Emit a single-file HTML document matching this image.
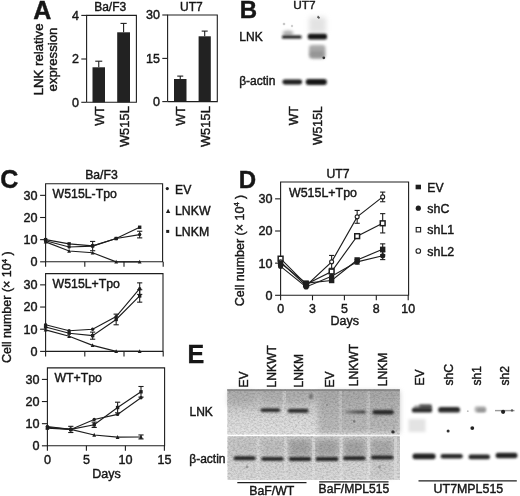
<!DOCTYPE html>
<html><head><meta charset="utf-8"><style>
html,body{margin:0;padding:0;background:#fff;width:520px;height:496px;overflow:hidden}
svg{display:block;filter:blur(0.35px)}
svg text{font-family:"Liberation Sans", sans-serif;fill:#161616;stroke:#161616;stroke-width:0.42px}
</style></head><body>
<svg width="520" height="496" viewBox="0 0 520 496">
<defs>
<filter id="b4" x="-20%" y="-100%" width="140%" height="300%"><feGaussianBlur stdDeviation="0.85"/></filter>
<filter id="b1" x="-20%" y="-100%" width="140%" height="300%"><feGaussianBlur stdDeviation="0.65"/></filter>
<filter id="b2" x="-20%" y="-100%" width="140%" height="300%"><feGaussianBlur stdDeviation="1.6"/></filter>
<filter id="b3" x="-50%" y="-50%" width="200%" height="200%"><feGaussianBlur stdDeviation="2.5"/></filter>
<linearGradient id="gu" x1="0" y1="0" x2="0" y2="1">
<stop offset="0" stop-color="#8c8c8c"/><stop offset="0.05" stop-color="#b2b2b2"/><stop offset="0.3" stop-color="#c6c6c6"/><stop offset="0.65" stop-color="#dadada"/><stop offset="1" stop-color="#e2e2e2"/>
</linearGradient>
<linearGradient id="gl" x1="0" y1="0" x2="0" y2="1">
<stop offset="0" stop-color="#c8c8c8"/><stop offset="0.35" stop-color="#cdcdcd"/><stop offset="0.6" stop-color="#d4d4d4"/><stop offset="1" stop-color="#dadada"/>
</linearGradient>
<linearGradient id="g5" x1="0" y1="0" x2="1" y2="0"><stop offset="0" stop-color="#8a8a8a"/><stop offset="0.5" stop-color="#555"/><stop offset="1" stop-color="#3a3a3a"/></linearGradient>
<filter id="nz" x="0" y="0" width="100%" height="100%" color-interpolation-filters="sRGB">
<feTurbulence type="fractalNoise" baseFrequency="0.45 0.6" numOctaves="2" seed="7"/>
<feColorMatrix type="matrix" values="0 0 0 0 0.1  0 0 0 0 0.1  0 0 0 0 0.1  0.45 0 0 0 -0.17"/>
</filter>

</defs>
<g id="panelB">
<ellipse cx="288" cy="33" rx="5.5" ry="2.6" fill="#8c8c8c" opacity="0.7" filter="url(#b2)"/>
<circle cx="284" cy="24" r="1.3" fill="#c8c8c8" filter="url(#b1)"/>
<circle cx="292" cy="26" r="1.2" fill="#cfcfcf" filter="url(#b1)"/>
<rect x="282" y="35.4" width="19.5" height="3.2" rx="1.2" fill="#111" filter="url(#b4)"/>
<rect x="309" y="17" width="17" height="16" fill="#d0d0d0" opacity="0.6" filter="url(#b3)"/>
<path d="M318 15.5 L320 17.5 L319 19 L317 17.5 Z" fill="#555" filter="url(#b1)"/>
<rect x="307.8" y="33.8" width="19.2" height="5.6" rx="2" fill="#151515" filter="url(#b4)"/>
<rect x="309" y="45" width="16.5" height="13.5" rx="3" fill="#9a9a9a" opacity="0.85" filter="url(#b2)"/>
<rect x="310" y="51" width="14" height="7" rx="3" fill="#888" opacity="0.6" filter="url(#b2)"/>
<circle cx="323.8" cy="57.8" r="1.4" fill="#333" filter="url(#b1)"/>
<rect x="282.4" y="79.5" width="19.8" height="4.9" rx="2.4" fill="#1c1c1c" filter="url(#b4)"/>
<rect x="305.7" y="78.9" width="21.2" height="6" rx="2.9" fill="#161616" filter="url(#b4)"/>
</g>
<g id="panelE">
<rect x="227.3" y="389.5" width="172.5" height="45" fill="url(#gu)"/>
<rect x="318" y="391" width="82" height="42" fill="#a2a2a2" opacity="0.6" filter="url(#b3)"/>
<rect x="228" y="391" width="27" height="15" fill="#a8a8a8" opacity="0.5" filter="url(#b3)"/>
<rect x="262" y="392" width="46" height="12" fill="#a8a8a8" opacity="0.5" filter="url(#b3)"/>
<rect x="282.6" y="391" width="3.4" height="43" fill="#e2e2e2" opacity="0.45" filter="url(#b1)"/>
<rect x="338.5" y="391" width="3.5" height="43" fill="#dadada" opacity="0.4" filter="url(#b1)"/>
<rect x="366.5" y="391" width="3.5" height="43" fill="#dadada" opacity="0.4" filter="url(#b1)"/>
<rect x="227.3" y="389.5" width="172.5" height="45" filter="url(#nz)" opacity="0.9"/>
<rect x="227.3" y="389.3" width="172.5" height="1.5" fill="#7c7c7c" opacity="0.8"/>
<rect x="260.6" y="408.2" width="19.5" height="3.8" rx="1.6" fill="#2c2c2c" filter="url(#b4)"/>
<rect x="287.8" y="408.8" width="20.7" height="4.0" rx="1.6" fill="#2a2a2a" filter="url(#b4)"/>
<rect x="345" y="410.4" width="20.6" height="3.2" rx="1.4" fill="url(#g5)" filter="url(#b4)"/>
<rect x="372.5" y="409.9" width="21.3" height="4.6" rx="2" fill="#262626" filter="url(#b4)"/>
<circle cx="376" cy="416.5" r="1.5" fill="#888" filter="url(#b4)"/>
<ellipse cx="311" cy="396.5" rx="1.8" ry="3" fill="#6a6a6a" filter="url(#b4)"/>
<circle cx="393" cy="431.9" r="1.7" fill="#333" filter="url(#b1)"/>
<circle cx="354.2" cy="421.5" r="1.2" fill="#777" filter="url(#b1)"/>
<circle cx="327" cy="405" r="1.1" fill="#888" filter="url(#b1)"/>
<rect x="227.5" y="436.3" width="172.5" height="43.7" fill="url(#gl)"/>
<rect x="234" y="441" width="21" height="14" fill="#c0c0c0" opacity="0.45" filter="url(#b3)"/>
<rect x="262" y="441" width="21" height="14" fill="#b4b4b4" opacity="0.5" filter="url(#b3)"/>
<rect x="289" y="440" width="22" height="16" fill="#959595" opacity="0.7" filter="url(#b3)"/>
<rect x="316" y="440" width="22" height="16" fill="#959595" opacity="0.7" filter="url(#b3)"/>
<rect x="344" y="440" width="21" height="16" fill="#959595" opacity="0.7" filter="url(#b3)"/>
<rect x="371" y="440" width="22" height="16" fill="#9a9a9a" opacity="0.65" filter="url(#b3)"/>
<rect x="371" y="462" width="22" height="16" fill="#bcbcbc" opacity="0.4" filter="url(#b3)"/>
<rect x="256.6" y="437" width="3" height="43" fill="#e4e4e4" opacity="0.5" filter="url(#b1)"/>
<rect x="284.2" y="437" width="3" height="43" fill="#e4e4e4" opacity="0.5" filter="url(#b1)"/>
<rect x="312" y="437" width="3" height="43" fill="#e6e6e6" opacity="0.55" filter="url(#b1)"/>
<rect x="339.6" y="437" width="3" height="43" fill="#e8e8e8" opacity="0.6" filter="url(#b1)"/>
<rect x="367.2" y="437" width="3" height="43" fill="#e8e8e8" opacity="0.6" filter="url(#b1)"/>
<rect x="233.6" y="456.3" width="22" height="4.0" rx="1.9" fill="#202020" filter="url(#b4)"/>
<rect x="261.3" y="456.9" width="22.4" height="3.9" rx="1.9" fill="#202020" filter="url(#b4)"/>
<rect x="288.8" y="456.9" width="22.4" height="4.0" rx="1.9" fill="#202020" filter="url(#b4)"/>
<rect x="315.6" y="456.9" width="22.9" height="4.0" rx="1.9" fill="#202020" filter="url(#b4)"/>
<rect x="343.1" y="456.2" width="22.5" height="4.0" rx="1.9" fill="#202020" filter="url(#b4)"/>
<rect x="371" y="455.4" width="22.5" height="4.2" rx="1.9" fill="#202020" filter="url(#b4)"/>
<rect x="227.5" y="436.3" width="172.5" height="43.7" filter="url(#nz)" opacity="0.9"/>
<circle cx="247" cy="467" r="1.4" fill="#999" filter="url(#b1)"/>
<circle cx="379.5" cy="467" r="1.4" fill="#999" filter="url(#b1)"/>
<rect x="394" y="437" width="3" height="43" fill="#e0e0e0" opacity="0.5" filter="url(#b1)"/>
<!-- UT7 -->
<rect x="419" y="404.2" width="13" height="5" rx="2" fill="#3a3a3a" opacity="0.85" filter="url(#b4)"/>
<rect x="414" y="405.5" width="8" height="3" rx="1.5" fill="#777" opacity="0.7" filter="url(#b4)"/>
<rect x="411.9" y="407.8" width="20.2" height="4.8" rx="2.2" fill="#2a2a2a" filter="url(#b4)"/>
<rect x="408.5" y="419" width="17" height="13" fill="#dcdcdc" opacity="0.8" filter="url(#b2)"/>
<rect x="438.2" y="407" width="21.8" height="5.6" rx="2.6" fill="#2a2a2a" filter="url(#b4)"/>
<rect x="474.5" y="406.3" width="11.7" height="6.2" rx="2.5" fill="#b8b8b8" filter="url(#b4)"/>
<rect x="477" y="408.3" width="8.5" height="3.6" rx="1.5" fill="#8a8a8a" opacity="0.8" filter="url(#b4)"/>
<circle cx="467.8" cy="411.2" r="0.9" fill="#bbb" filter="url(#b1)"/>
<rect x="495" y="409.9" width="19.5" height="1.4" fill="#9a9a9a" filter="url(#b1)"/>
<circle cx="503.1" cy="411.8" r="2.1" fill="#222" filter="url(#b1)"/>
<circle cx="512" cy="410.4" r="1.2" fill="#555" filter="url(#b1)"/>
<circle cx="472.3" cy="428.1" r="1.9" fill="#222" filter="url(#b1)"/>
<circle cx="448.1" cy="431" r="1.5" fill="#333" filter="url(#b1)"/>
<rect x="412.5" y="453.6" width="23.1" height="5.7" rx="2.8" fill="#222" filter="url(#b4)"/>
<rect x="440.6" y="454" width="22.2" height="4.4" rx="2.2" fill="#262626" filter="url(#b4)"/>
<rect x="468.5" y="454.6" width="21.5" height="4.6" rx="2.3" fill="#262626" filter="url(#b4)"/>
<rect x="495.6" y="452.8" width="21.9" height="5.5" rx="2.7" fill="#222" filter="url(#b4)"/>
</g>

<text x="33.3" y="19" font-size="25" text-anchor="start" font-weight="bold" >A</text>
<text transform="translate(43.3,59.4) rotate(-90)" font-size="13.2" text-anchor="middle" font-weight="normal" >LNK relative</text>
<text transform="translate(56.8,59.5) rotate(-90)" font-size="13.2" text-anchor="middle" font-weight="normal" >expression</text>
<path d="M86.6 102.3 V15.4 H136.4 V102.3 H86.6" fill="none" stroke="#1e1e1e" stroke-width="1.1"/>
<line x1="81.3" y1="15.4" x2="86.6" y2="15.4" stroke="#1e1e1e" stroke-width="1.1"/>
<text x="79.0" y="19.7" font-size="12.5" text-anchor="end" font-weight="normal" >4</text>
<line x1="81.3" y1="59.0" x2="86.6" y2="59.0" stroke="#1e1e1e" stroke-width="1.1"/>
<text x="79.0" y="63.3" font-size="12.5" text-anchor="end" font-weight="normal" >2</text>
<line x1="81.3" y1="102.3" x2="86.6" y2="102.3" stroke="#1e1e1e" stroke-width="1.1"/>
<text x="79.0" y="106.6" font-size="12.5" text-anchor="end" font-weight="normal" >0</text>
<rect x="92.5" y="67.3" width="12.5" height="35.0" fill="#222" />
<line x1="98.75" y1="61.2" x2="98.75" y2="67.3" stroke="#1e1e1e" stroke-width="1.1"/>
<line x1="95.25" y1="61.2" x2="102.25" y2="61.2" stroke="#1e1e1e" stroke-width="1.1"/>
<rect x="117.2" y="32.3" width="12.799999999999997" height="70.0" fill="#222" />
<line x1="123.6" y1="23.4" x2="123.6" y2="32.3" stroke="#1e1e1e" stroke-width="1.1"/>
<line x1="120.5" y1="23.4" x2="126.69999999999999" y2="23.4" stroke="#1e1e1e" stroke-width="1.1"/>
<text x="94.2" y="10.5" font-size="12" text-anchor="start" font-weight="normal" >Ba/F3</text>
<path d="M167.6 101.6 V15.0 H217.3 V101.6 H167.6" fill="none" stroke="#1e1e1e" stroke-width="1.1"/>
<line x1="162.29999999999998" y1="15.0" x2="167.6" y2="15.0" stroke="#1e1e1e" stroke-width="1.1"/>
<text x="160.0" y="19.3" font-size="12.5" text-anchor="end" font-weight="normal" >30</text>
<line x1="162.29999999999998" y1="58.4" x2="167.6" y2="58.4" stroke="#1e1e1e" stroke-width="1.1"/>
<text x="160.0" y="62.699999999999996" font-size="12.5" text-anchor="end" font-weight="normal" >15</text>
<line x1="162.29999999999998" y1="101.6" x2="167.6" y2="101.6" stroke="#1e1e1e" stroke-width="1.1"/>
<text x="160.0" y="105.89999999999999" font-size="12.5" text-anchor="end" font-weight="normal" >0</text>
<rect x="174.0" y="79.0" width="12.5" height="22.599999999999994" fill="#222" />
<line x1="180.25" y1="76.1" x2="180.25" y2="79.0" stroke="#1e1e1e" stroke-width="1.1"/>
<line x1="177.25" y1="76.1" x2="183.25" y2="76.1" stroke="#1e1e1e" stroke-width="1.1"/>
<rect x="198.6" y="36.3" width="12.200000000000017" height="65.3" fill="#222" />
<line x1="204.7" y1="31.1" x2="204.7" y2="36.3" stroke="#1e1e1e" stroke-width="1.1"/>
<line x1="201.7" y1="31.1" x2="207.7" y2="31.1" stroke="#1e1e1e" stroke-width="1.1"/>
<text x="180.0" y="10.5" font-size="12" text-anchor="start" font-weight="normal" >UT7</text>
<text transform="translate(103.8,106.2) rotate(-90)" font-size="12.6" text-anchor="end" font-weight="normal" >WT</text>
<text transform="translate(129.4,106.2) rotate(-90)" font-size="12.9" text-anchor="end" font-weight="normal" >W515L</text>
<text transform="translate(185.0,106.2) rotate(-90)" font-size="12.6" text-anchor="end" font-weight="normal" >WT</text>
<text transform="translate(210.3,106.2) rotate(-90)" font-size="12.9" text-anchor="end" font-weight="normal" >W515L</text>
<text x="239.8" y="18.1" font-size="24" text-anchor="start" font-weight="bold" >B</text>
<text x="293.3" y="9.4" font-size="11.8" text-anchor="start" font-weight="normal" >UT7</text>
<text x="239.3" y="41.3" font-size="12" text-anchor="start" font-weight="normal" >LNK</text>
<text x="239.2" y="84.8" font-size="12" text-anchor="start" font-weight="normal" >&#946;-actin</text>
<text transform="translate(297.5,106.3) rotate(-90)" font-size="12.2" text-anchor="end" font-weight="normal" >WT</text>
<text transform="translate(322.3,106.3) rotate(-90)" font-size="12.2" text-anchor="end" font-weight="normal" >W515L</text>
<text x="0.2" y="188.3" font-size="25" text-anchor="start" font-weight="bold" >C</text>
<text transform="translate(11.2,307.2) rotate(-90)" font-size="12.5" text-anchor="middle" font-weight="normal" >Cell number (&#215; 10<tspan font-size="7.5" dy="-4.5">4</tspan><tspan dy="4.5"> )</tspan></text>
<text x="85.2" y="179.4" font-size="12.2" text-anchor="start" font-weight="normal" >Ba/F3</text>
<path d="M45.6 261.8 V183.8 H162.6 V261.8 Z" fill="none" stroke="#1e1e1e" stroke-width="1.1"/>
<line x1="40.1" y1="261.8" x2="45.6" y2="261.8" stroke="#1e1e1e" stroke-width="1.1"/>
<text x="37.6" y="266.2" font-size="12.6" text-anchor="end" font-weight="normal" >0</text>
<line x1="40.1" y1="239.65" x2="45.6" y2="239.65" stroke="#1e1e1e" stroke-width="1.1"/>
<text x="37.6" y="244.05" font-size="12.6" text-anchor="end" font-weight="normal" >10</text>
<line x1="40.1" y1="217.5" x2="45.6" y2="217.5" stroke="#1e1e1e" stroke-width="1.1"/>
<text x="37.6" y="221.9" font-size="12.6" text-anchor="end" font-weight="normal" >20</text>
<line x1="40.1" y1="195.35000000000002" x2="45.6" y2="195.35000000000002" stroke="#1e1e1e" stroke-width="1.1"/>
<text x="37.6" y="199.75000000000003" font-size="12.6" text-anchor="end" font-weight="normal" >30</text>
<line x1="45.6" y1="261.8" x2="45.6" y2="266.8" stroke="#1e1e1e" stroke-width="1.1"/>
<line x1="84.80000000000001" y1="261.8" x2="84.80000000000001" y2="266.8" stroke="#1e1e1e" stroke-width="1.1"/>
<line x1="124.0" y1="261.8" x2="124.0" y2="266.8" stroke="#1e1e1e" stroke-width="1.1"/>
<line x1="163.2" y1="261.8" x2="163.2" y2="266.8" stroke="#1e1e1e" stroke-width="1.1"/>
<polyline points="45.60,239.65 69.12,243.86 92.64,245.85 116.16,238.54 139.68,227.25" fill="none" stroke="#1e1e1e" stroke-width="1.15"/>
<polyline points="45.60,240.76 69.12,246.96 92.64,246.07 116.16,238.54 139.68,234.56" fill="none" stroke="#1e1e1e" stroke-width="1.15"/>
<polyline points="45.60,241.87 69.12,250.95 92.64,252.72 116.16,261.80 139.68,261.80" fill="none" stroke="#1e1e1e" stroke-width="1.15"/>
<line x1="92.64" y1="241.42200000000003" x2="92.64" y2="250.72500000000002" stroke="#1e1e1e" stroke-width="1.1"/>
<line x1="90.04" y1="241.42200000000003" x2="95.24" y2="241.42200000000003" stroke="#1e1e1e" stroke-width="1.1"/>
<line x1="90.04" y1="250.72500000000002" x2="95.24" y2="250.72500000000002" stroke="#1e1e1e" stroke-width="1.1"/>
<line x1="139.68" y1="231.233" x2="139.68" y2="237.87800000000001" stroke="#1e1e1e" stroke-width="1.1"/>
<line x1="137.08" y1="231.233" x2="142.28" y2="231.233" stroke="#1e1e1e" stroke-width="1.1"/>
<line x1="137.08" y1="237.87800000000001" x2="142.28" y2="237.87800000000001" stroke="#1e1e1e" stroke-width="1.1"/>
<rect x="43.90" y="237.95" width="3.4" height="3.4" fill="#1e1e1e"/>
<rect x="67.42" y="242.16" width="3.4" height="3.4" fill="#1e1e1e"/>
<rect x="90.94" y="244.15" width="3.4" height="3.4" fill="#1e1e1e"/>
<rect x="114.46" y="236.84" width="3.4" height="3.4" fill="#1e1e1e"/>
<rect x="137.98" y="225.55" width="3.4" height="3.4" fill="#1e1e1e"/>
<circle cx="45.60" cy="240.76" r="1.7" fill="#1e1e1e"/>
<circle cx="69.12" cy="246.96" r="1.7" fill="#1e1e1e"/>
<circle cx="92.64" cy="246.07" r="1.7" fill="#1e1e1e"/>
<circle cx="116.16" cy="238.54" r="1.7" fill="#1e1e1e"/>
<circle cx="139.68" cy="234.56" r="1.7" fill="#1e1e1e"/>
<path d="M43.7 243.57500000000002 L45.6 239.775 L47.5 243.57500000000002 Z" fill="#1e1e1e"/>
<path d="M67.22 252.65650000000002 L69.12 248.8565 L71.02000000000001 252.65650000000002 Z" fill="#1e1e1e"/>
<path d="M90.74 254.4285 L92.64 250.6285 L94.54 254.4285 Z" fill="#1e1e1e"/>
<path d="M114.25999999999999 263.51 L116.16 259.71000000000004 L118.06 263.51 Z" fill="#1e1e1e"/>
<path d="M137.78 263.51 L139.68 259.71000000000004 L141.58 263.51 Z" fill="#1e1e1e"/>
<text x="52.6" y="198.3" font-size="12.3" text-anchor="start" font-weight="normal" >W515L-Tpo</text>
<path d="M45.6 351.4 V273.6 H163.0 V351.4 Z" fill="none" stroke="#1e1e1e" stroke-width="1.1"/>
<line x1="40.1" y1="351.4" x2="45.6" y2="351.4" stroke="#1e1e1e" stroke-width="1.1"/>
<text x="37.6" y="355.79999999999995" font-size="12.6" text-anchor="end" font-weight="normal" >0</text>
<line x1="40.1" y1="329.21999999999997" x2="45.6" y2="329.21999999999997" stroke="#1e1e1e" stroke-width="1.1"/>
<text x="37.6" y="333.61999999999995" font-size="12.6" text-anchor="end" font-weight="normal" >10</text>
<line x1="40.1" y1="307.03999999999996" x2="45.6" y2="307.03999999999996" stroke="#1e1e1e" stroke-width="1.1"/>
<text x="37.6" y="311.43999999999994" font-size="12.6" text-anchor="end" font-weight="normal" >20</text>
<line x1="40.1" y1="284.86" x2="45.6" y2="284.86" stroke="#1e1e1e" stroke-width="1.1"/>
<text x="37.6" y="289.26" font-size="12.6" text-anchor="end" font-weight="normal" >30</text>
<line x1="45.6" y1="351.4" x2="45.6" y2="356.4" stroke="#1e1e1e" stroke-width="1.1"/>
<line x1="84.80000000000001" y1="351.4" x2="84.80000000000001" y2="356.4" stroke="#1e1e1e" stroke-width="1.1"/>
<line x1="124.0" y1="351.4" x2="124.0" y2="356.4" stroke="#1e1e1e" stroke-width="1.1"/>
<line x1="163.2" y1="351.4" x2="163.2" y2="356.4" stroke="#1e1e1e" stroke-width="1.1"/>
<polyline points="45.60,324.78 69.12,330.77 92.64,329.22 116.16,316.58 139.68,288.63" fill="none" stroke="#1e1e1e" stroke-width="1.15"/>
<polyline points="45.60,327.00 69.12,333.21 92.64,335.65 116.16,319.46 139.68,295.95" fill="none" stroke="#1e1e1e" stroke-width="1.15"/>
<polyline points="45.60,329.89 69.12,336.32 92.64,345.41 116.16,351.40 139.68,351.40" fill="none" stroke="#1e1e1e" stroke-width="1.15"/>
<line x1="139.68" y1="282.86379999999997" x2="139.68" y2="294.39739999999995" stroke="#1e1e1e" stroke-width="1.1"/>
<line x1="137.08" y1="282.86379999999997" x2="142.28" y2="282.86379999999997" stroke="#1e1e1e" stroke-width="1.1"/>
<line x1="137.08" y1="294.39739999999995" x2="142.28" y2="294.39739999999995" stroke="#1e1e1e" stroke-width="1.1"/>
<line x1="92.64" y1="332.10339999999997" x2="92.64" y2="339.20099999999996" stroke="#1e1e1e" stroke-width="1.1"/>
<line x1="90.04" y1="332.10339999999997" x2="95.24" y2="332.10339999999997" stroke="#1e1e1e" stroke-width="1.1"/>
<line x1="90.04" y1="339.20099999999996" x2="95.24" y2="339.20099999999996" stroke="#1e1e1e" stroke-width="1.1"/>
<line x1="116.16" y1="314.13759999999996" x2="116.16" y2="324.784" stroke="#1e1e1e" stroke-width="1.1"/>
<line x1="113.56" y1="314.13759999999996" x2="118.75999999999999" y2="314.13759999999996" stroke="#1e1e1e" stroke-width="1.1"/>
<line x1="113.56" y1="324.784" x2="118.75999999999999" y2="324.784" stroke="#1e1e1e" stroke-width="1.1"/>
<line x1="139.68" y1="289.7396" x2="139.68" y2="302.1604" stroke="#1e1e1e" stroke-width="1.1"/>
<line x1="137.08" y1="289.7396" x2="142.28" y2="289.7396" stroke="#1e1e1e" stroke-width="1.1"/>
<line x1="137.08" y1="302.1604" x2="142.28" y2="302.1604" stroke="#1e1e1e" stroke-width="1.1"/>
<circle cx="45.60" cy="324.78" r="1.7" fill="#1e1e1e"/>
<circle cx="69.12" cy="330.77" r="1.7" fill="#1e1e1e"/>
<circle cx="92.64" cy="329.22" r="1.7" fill="#1e1e1e"/>
<circle cx="116.16" cy="316.58" r="1.7" fill="#1e1e1e"/>
<circle cx="139.68" cy="288.63" r="1.7" fill="#1e1e1e"/>
<rect x="43.90" y="325.30" width="3.4" height="3.4" fill="#1e1e1e"/>
<rect x="67.42" y="331.51" width="3.4" height="3.4" fill="#1e1e1e"/>
<rect x="90.94" y="333.95" width="3.4" height="3.4" fill="#1e1e1e"/>
<rect x="114.46" y="317.76" width="3.4" height="3.4" fill="#1e1e1e"/>
<rect x="137.98" y="294.25" width="3.4" height="3.4" fill="#1e1e1e"/>
<path d="M43.7 331.5954 L45.6 327.79540000000003 L47.5 331.5954 Z" fill="#1e1e1e"/>
<path d="M67.22 338.02759999999995 L69.12 334.2276 L71.02000000000001 338.02759999999995 Z" fill="#1e1e1e"/>
<path d="M90.74 347.12139999999994 L92.64 343.3214 L94.54 347.12139999999994 Z" fill="#1e1e1e"/>
<path d="M114.25999999999999 353.10999999999996 L116.16 349.31 L118.06 353.10999999999996 Z" fill="#1e1e1e"/>
<path d="M137.78 353.10999999999996 L139.68 349.31 L141.58 353.10999999999996 Z" fill="#1e1e1e"/>
<text x="52.6" y="288.1" font-size="12.3" text-anchor="start" font-weight="normal" >W515L+Tpo</text>
<path d="M47.4 445.8 V367.9 H164.6 V445.8 Z" fill="none" stroke="#1e1e1e" stroke-width="1.1"/>
<line x1="41.9" y1="445.8" x2="47.4" y2="445.8" stroke="#1e1e1e" stroke-width="1.1"/>
<text x="39.4" y="450.2" font-size="12.6" text-anchor="end" font-weight="normal" >0</text>
<line x1="41.9" y1="423.67" x2="47.4" y2="423.67" stroke="#1e1e1e" stroke-width="1.1"/>
<text x="39.4" y="428.07" font-size="12.6" text-anchor="end" font-weight="normal" >10</text>
<line x1="41.9" y1="401.54" x2="47.4" y2="401.54" stroke="#1e1e1e" stroke-width="1.1"/>
<text x="39.4" y="405.94" font-size="12.6" text-anchor="end" font-weight="normal" >20</text>
<line x1="41.9" y1="379.41" x2="47.4" y2="379.41" stroke="#1e1e1e" stroke-width="1.1"/>
<text x="39.4" y="383.81" font-size="12.6" text-anchor="end" font-weight="normal" >30</text>
<line x1="47.4" y1="445.8" x2="47.4" y2="450.8" stroke="#1e1e1e" stroke-width="1.1"/>
<line x1="86.4" y1="445.8" x2="86.4" y2="450.8" stroke="#1e1e1e" stroke-width="1.1"/>
<line x1="125.4" y1="445.8" x2="125.4" y2="450.8" stroke="#1e1e1e" stroke-width="1.1"/>
<line x1="164.4" y1="445.8" x2="164.4" y2="450.8" stroke="#1e1e1e" stroke-width="1.1"/>
<polyline points="47.40,426.55 70.80,429.42 94.20,419.47 117.60,414.38 141.00,397.78" fill="none" stroke="#1e1e1e" stroke-width="1.15"/>
<polyline points="47.40,428.10 70.80,429.42 94.20,424.78 117.60,407.52 141.00,391.80" fill="none" stroke="#1e1e1e" stroke-width="1.15"/>
<polyline points="47.40,427.43 70.80,429.42 94.20,434.96 117.60,437.17 141.00,436.95" fill="none" stroke="#1e1e1e" stroke-width="1.15"/>
<line x1="70.8" y1="426.3256" x2="70.8" y2="432.522" stroke="#1e1e1e" stroke-width="1.1"/>
<line x1="68.2" y1="426.3256" x2="73.39999999999999" y2="426.3256" stroke="#1e1e1e" stroke-width="1.1"/>
<line x1="68.2" y1="432.522" x2="73.39999999999999" y2="432.522" stroke="#1e1e1e" stroke-width="1.1"/>
<line x1="94.19999999999999" y1="422.1209" x2="94.19999999999999" y2="427.4321" stroke="#1e1e1e" stroke-width="1.1"/>
<line x1="91.6" y1="422.1209" x2="96.79999999999998" y2="422.1209" stroke="#1e1e1e" stroke-width="1.1"/>
<line x1="91.6" y1="427.4321" x2="96.79999999999998" y2="427.4321" stroke="#1e1e1e" stroke-width="1.1"/>
<line x1="117.6" y1="402.20390000000003" x2="117.6" y2="412.8263" stroke="#1e1e1e" stroke-width="1.1"/>
<line x1="115.0" y1="402.20390000000003" x2="120.19999999999999" y2="402.20390000000003" stroke="#1e1e1e" stroke-width="1.1"/>
<line x1="115.0" y1="412.8263" x2="120.19999999999999" y2="412.8263" stroke="#1e1e1e" stroke-width="1.1"/>
<line x1="141.0" y1="386.4916" x2="141.0" y2="397.11400000000003" stroke="#1e1e1e" stroke-width="1.1"/>
<line x1="138.4" y1="386.4916" x2="143.6" y2="386.4916" stroke="#1e1e1e" stroke-width="1.1"/>
<line x1="138.4" y1="397.11400000000003" x2="143.6" y2="397.11400000000003" stroke="#1e1e1e" stroke-width="1.1"/>
<line x1="141.0" y1="434.9563" x2="141.0" y2="438.9397" stroke="#1e1e1e" stroke-width="1.1"/>
<line x1="138.4" y1="434.9563" x2="143.6" y2="434.9563" stroke="#1e1e1e" stroke-width="1.1"/>
<line x1="138.4" y1="438.9397" x2="143.6" y2="438.9397" stroke="#1e1e1e" stroke-width="1.1"/>
<circle cx="47.40" cy="426.55" r="1.7" fill="#1e1e1e"/>
<circle cx="70.80" cy="429.42" r="1.7" fill="#1e1e1e"/>
<circle cx="94.20" cy="419.47" r="1.7" fill="#1e1e1e"/>
<circle cx="117.60" cy="414.38" r="1.7" fill="#1e1e1e"/>
<circle cx="141.00" cy="397.78" r="1.7" fill="#1e1e1e"/>
<rect x="45.70" y="426.40" width="3.4" height="3.4" fill="#1e1e1e"/>
<rect x="69.10" y="427.72" width="3.4" height="3.4" fill="#1e1e1e"/>
<rect x="92.50" y="423.08" width="3.4" height="3.4" fill="#1e1e1e"/>
<rect x="115.90" y="405.82" width="3.4" height="3.4" fill="#1e1e1e"/>
<rect x="139.30" y="390.10" width="3.4" height="3.4" fill="#1e1e1e"/>
<path d="M45.5 429.14209999999997 L47.4 425.3421 L49.3 429.14209999999997 Z" fill="#1e1e1e"/>
<path d="M68.89999999999999 431.1338 L70.8 427.33380000000005 L72.7 431.1338 Z" fill="#1e1e1e"/>
<path d="M92.29999999999998 436.6663 L94.19999999999999 432.8663 L96.1 436.6663 Z" fill="#1e1e1e"/>
<path d="M115.69999999999999 438.8793 L117.6 435.07930000000005 L119.5 438.8793 Z" fill="#1e1e1e"/>
<path d="M139.1 438.658 L141.0 434.85800000000006 L142.9 438.658 Z" fill="#1e1e1e"/>
<text x="54.4" y="382.4" font-size="12.3" text-anchor="start" font-weight="normal" >WT+Tpo</text>
<text x="47.4" y="464.2" font-size="12.6" text-anchor="middle" font-weight="normal" >0</text>
<text x="86.4" y="464.2" font-size="12.6" text-anchor="middle" font-weight="normal" >5</text>
<text x="125.4" y="464.2" font-size="12.6" text-anchor="middle" font-weight="normal" >10</text>
<text x="164.4" y="464.2" font-size="12.6" text-anchor="middle" font-weight="normal" >15</text>
<text x="106.5" y="477.6" font-size="12.5" text-anchor="middle" font-weight="normal" >Days</text>
<circle cx="167.3" cy="188.6" r="1.6" fill="#1e1e1e"/>
<text x="175.0" y="193.5" font-size="12.2" text-anchor="start" font-weight="normal" >EV</text>
<path d="M165.95 212.935 L168.1 208.635 L170.25 212.935 Z" fill="#1e1e1e"/>
<text x="175.0" y="215.0" font-size="12.3" text-anchor="start" font-weight="normal" >LNKW</text>
<rect x="166.2" y="229.9" width="3.0" height="3.0" fill="#1e1e1e" />
<text x="175.0" y="236.3" font-size="12.3" text-anchor="start" font-weight="normal" >LNKM</text>
<text x="238.8" y="187.5" font-size="24" text-anchor="start" font-weight="bold" >D</text>
<text transform="translate(243.6,250.5) rotate(-90)" font-size="12.5" text-anchor="middle" font-weight="normal" >Cell number (&#215; 10<tspan font-size="7.5" dy="-4.5">4</tspan><tspan dy="4.5"> )</tspan></text>
<text x="338.0" y="177.6" font-size="12.2" text-anchor="middle" font-weight="normal" >UT7</text>
<path d="M280.6 295.3 V182.0 H408.6 V295.3 Z" fill="none" stroke="#1e1e1e" stroke-width="1.1"/>
<line x1="275.1" y1="295.3" x2="280.6" y2="295.3" stroke="#1e1e1e" stroke-width="1.1"/>
<text x="272.6" y="299.7" font-size="12.6" text-anchor="end" font-weight="normal" >0</text>
<line x1="275.1" y1="263.15000000000003" x2="280.6" y2="263.15000000000003" stroke="#1e1e1e" stroke-width="1.1"/>
<text x="272.6" y="267.55" font-size="12.6" text-anchor="end" font-weight="normal" >10</text>
<line x1="275.1" y1="231.0" x2="280.6" y2="231.0" stroke="#1e1e1e" stroke-width="1.1"/>
<text x="272.6" y="235.4" font-size="12.6" text-anchor="end" font-weight="normal" >20</text>
<line x1="275.1" y1="198.85000000000002" x2="280.6" y2="198.85000000000002" stroke="#1e1e1e" stroke-width="1.1"/>
<text x="272.6" y="203.25000000000003" font-size="12.6" text-anchor="end" font-weight="normal" >30</text>
<line x1="280.6" y1="295.3" x2="280.6" y2="300.3" stroke="#1e1e1e" stroke-width="1.1"/>
<line x1="312.5" y1="295.3" x2="312.5" y2="300.3" stroke="#1e1e1e" stroke-width="1.1"/>
<line x1="344.40000000000003" y1="295.3" x2="344.40000000000003" y2="300.3" stroke="#1e1e1e" stroke-width="1.1"/>
<line x1="376.3" y1="295.3" x2="376.3" y2="300.3" stroke="#1e1e1e" stroke-width="1.1"/>
<line x1="408.20000000000005" y1="295.3" x2="408.20000000000005" y2="300.3" stroke="#1e1e1e" stroke-width="1.1"/>
<polyline points="280.60,263.15 306.12,283.08 331.64,280.51 357.16,259.94 382.68,249.33" fill="none" stroke="#1e1e1e" stroke-width="1.15"/>
<polyline points="280.60,266.37 306.12,286.94 331.64,276.33 357.16,261.86 382.68,255.76" fill="none" stroke="#1e1e1e" stroke-width="1.15"/>
<polyline points="280.60,258.65 306.12,284.37 331.64,271.51 357.16,236.14 382.68,223.28" fill="none" stroke="#1e1e1e" stroke-width="1.15"/>
<polyline points="280.60,261.86 306.12,285.66 331.64,261.86 357.16,216.85 382.68,196.92" fill="none" stroke="#1e1e1e" stroke-width="1.15"/>
<line x1="382.68" y1="243.86" x2="382.68" y2="254.791" stroke="#1e1e1e" stroke-width="1.1"/>
<line x1="380.08" y1="243.86" x2="385.28000000000003" y2="243.86" stroke="#1e1e1e" stroke-width="1.1"/>
<line x1="380.08" y1="254.791" x2="385.28000000000003" y2="254.791" stroke="#1e1e1e" stroke-width="1.1"/>
<line x1="382.68" y1="251.8975" x2="382.68" y2="259.6135" stroke="#1e1e1e" stroke-width="1.1"/>
<line x1="380.08" y1="251.8975" x2="385.28000000000003" y2="251.8975" stroke="#1e1e1e" stroke-width="1.1"/>
<line x1="380.08" y1="259.6135" x2="385.28000000000003" y2="259.6135" stroke="#1e1e1e" stroke-width="1.1"/>
<line x1="357.16" y1="259.61350000000004" x2="357.16" y2="264.1145" stroke="#1e1e1e" stroke-width="1.1"/>
<line x1="354.56" y1="259.61350000000004" x2="359.76000000000005" y2="259.61350000000004" stroke="#1e1e1e" stroke-width="1.1"/>
<line x1="354.56" y1="264.1145" x2="359.76000000000005" y2="264.1145" stroke="#1e1e1e" stroke-width="1.1"/>
<line x1="382.68" y1="213.639" x2="382.68" y2="232.92900000000003" stroke="#1e1e1e" stroke-width="1.1"/>
<line x1="380.08" y1="213.639" x2="385.28000000000003" y2="213.639" stroke="#1e1e1e" stroke-width="1.1"/>
<line x1="380.08" y1="232.92900000000003" x2="385.28000000000003" y2="232.92900000000003" stroke="#1e1e1e" stroke-width="1.1"/>
<line x1="331.64000000000004" y1="255.43400000000003" x2="331.64000000000004" y2="268.294" stroke="#1e1e1e" stroke-width="1.1"/>
<line x1="329.04" y1="255.43400000000003" x2="334.24000000000007" y2="255.43400000000003" stroke="#1e1e1e" stroke-width="1.1"/>
<line x1="329.04" y1="268.294" x2="334.24000000000007" y2="268.294" stroke="#1e1e1e" stroke-width="1.1"/>
<line x1="357.16" y1="210.42400000000004" x2="357.16" y2="223.28400000000002" stroke="#1e1e1e" stroke-width="1.1"/>
<line x1="354.56" y1="210.42400000000004" x2="359.76000000000005" y2="210.42400000000004" stroke="#1e1e1e" stroke-width="1.1"/>
<line x1="354.56" y1="223.28400000000002" x2="359.76000000000005" y2="223.28400000000002" stroke="#1e1e1e" stroke-width="1.1"/>
<line x1="382.68" y1="192.0985" x2="382.68" y2="201.7435" stroke="#1e1e1e" stroke-width="1.1"/>
<line x1="380.08" y1="192.0985" x2="385.28000000000003" y2="192.0985" stroke="#1e1e1e" stroke-width="1.1"/>
<line x1="380.08" y1="201.7435" x2="385.28000000000003" y2="201.7435" stroke="#1e1e1e" stroke-width="1.1"/>
<rect x="278.20" y="256.25" width="4.8" height="4.8" fill="#fff" stroke="#1e1e1e" stroke-width="1.5"/>
<rect x="303.72" y="281.97" width="4.8" height="4.8" fill="#fff" stroke="#1e1e1e" stroke-width="1.5"/>
<rect x="329.24" y="269.11" width="4.8" height="4.8" fill="#fff" stroke="#1e1e1e" stroke-width="1.5"/>
<rect x="354.76" y="233.74" width="4.8" height="4.8" fill="#fff" stroke="#1e1e1e" stroke-width="1.5"/>
<rect x="380.28" y="220.88" width="4.8" height="4.8" fill="#fff" stroke="#1e1e1e" stroke-width="1.5"/>
<circle cx="280.60" cy="261.86" r="2.0" fill="#fff" stroke="#1e1e1e" stroke-width="1.1"/>
<circle cx="306.12" cy="285.66" r="2.0" fill="#fff" stroke="#1e1e1e" stroke-width="1.1"/>
<circle cx="331.64" cy="261.86" r="2.0" fill="#fff" stroke="#1e1e1e" stroke-width="1.1"/>
<circle cx="357.16" cy="216.85" r="2.0" fill="#fff" stroke="#1e1e1e" stroke-width="1.1"/>
<circle cx="382.68" cy="196.92" r="2.0" fill="#fff" stroke="#1e1e1e" stroke-width="1.1"/>
<rect x="277.90" y="260.45" width="5.4" height="5.4" fill="#1e1e1e"/>
<rect x="303.42" y="280.38" width="5.4" height="5.4" fill="#1e1e1e"/>
<rect x="328.94" y="277.81" width="5.4" height="5.4" fill="#1e1e1e"/>
<rect x="354.46" y="257.24" width="5.4" height="5.4" fill="#1e1e1e"/>
<rect x="379.98" y="246.63" width="5.4" height="5.4" fill="#1e1e1e"/>
<circle cx="280.60" cy="266.37" r="2.6" fill="#1e1e1e"/>
<circle cx="306.12" cy="286.94" r="2.6" fill="#1e1e1e"/>
<circle cx="331.64" cy="276.33" r="2.6" fill="#1e1e1e"/>
<circle cx="357.16" cy="261.86" r="2.6" fill="#1e1e1e"/>
<circle cx="382.68" cy="255.76" r="2.6" fill="#1e1e1e"/>
<text x="288.90000000000003" y="196.5" font-size="12.45" text-anchor="start" font-weight="normal" >W515L+Tpo</text>
<text x="280.6" y="313.4" font-size="12.4" text-anchor="middle" font-weight="normal" >0</text>
<text x="312.5" y="313.4" font-size="12.4" text-anchor="middle" font-weight="normal" >3</text>
<text x="344.40000000000003" y="313.4" font-size="12.4" text-anchor="middle" font-weight="normal" >5</text>
<text x="376.3" y="313.4" font-size="12.4" text-anchor="middle" font-weight="normal" >8</text>
<text x="408.20000000000005" y="313.4" font-size="12.4" text-anchor="middle" font-weight="normal" >10</text>
<text x="344.7" y="325.4" font-size="12.5" text-anchor="middle" font-weight="normal" >Days</text>
<rect x="415.6" y="184.7" width="5.4" height="4.6" fill="#1e1e1e" />
<text x="427.3" y="191.9" font-size="12.2" text-anchor="start" font-weight="normal" >EV</text>
<circle cx="418.3" cy="208.2" r="2.6" fill="#1e1e1e"/>
<text x="427.3" y="213.1" font-size="12.4" text-anchor="start" font-weight="normal" >shC</text>
<rect x="416.2" y="227.5" width="4.4" height="4.4" fill="#fff" stroke="#1e1e1e" stroke-width="1.1"/>
<text x="427.3" y="234.4" font-size="12.4" text-anchor="start" font-weight="normal" >shL1</text>
<circle cx="418.3" cy="251" r="2.3" fill="#fff" stroke="#1e1e1e" stroke-width="1.1"/>
<text x="427.3" y="256.0" font-size="12.4" text-anchor="start" font-weight="normal" >shL2</text>
<text x="187.6" y="362.6" font-size="25" text-anchor="start" font-weight="bold" >E</text>
<text transform="translate(248.1,387.5) rotate(-90)" font-size="12.1" text-anchor="start" font-weight="normal" >EV</text>
<text transform="translate(275.6,387.5) rotate(-90)" font-size="12.1" text-anchor="start" font-weight="normal" >LNKWT</text>
<text transform="translate(302.8,387.5) rotate(-90)" font-size="12.1" text-anchor="start" font-weight="normal" >LNKM</text>
<text transform="translate(333.5,387.5) rotate(-90)" font-size="12.1" text-anchor="start" font-weight="normal" >EV</text>
<text transform="translate(358.1,386.3) rotate(-90)" font-size="12.1" text-anchor="start" font-weight="normal" >LNKWT</text>
<text transform="translate(386.9,386.3) rotate(-90)" font-size="12.1" text-anchor="start" font-weight="normal" >LNKM</text>
<text transform="translate(424.4,385.6) rotate(-90)" font-size="12.1" text-anchor="start" font-weight="normal" >EV</text>
<text transform="translate(453.1,385.6) rotate(-90)" font-size="12.1" text-anchor="start" font-weight="normal" >shC</text>
<text transform="translate(480.8,385.6) rotate(-90)" font-size="12.1" text-anchor="start" font-weight="normal" >sh1</text>
<text transform="translate(508.8,385.6) rotate(-90)" font-size="12.1" text-anchor="start" font-weight="normal" >sh2</text>
<text x="189.5" y="415.8" font-size="12" text-anchor="start" font-weight="normal" >LNK</text>
<text x="189.3" y="463.1" font-size="12" text-anchor="start" font-weight="normal" >&#946;-actin</text>
<text x="271.8" y="495.2" font-size="12.3" text-anchor="middle" font-weight="normal" >BaF/WT</text>
<text x="353.9" y="493.3" font-size="12.1" text-anchor="middle" font-weight="normal" >BaF/MPL515</text>
<text x="468.4" y="493.3" font-size="12.4" text-anchor="middle" font-weight="normal" >UT7MPL515</text>
<line x1="237.3" y1="482.7" x2="306.5" y2="482.7" stroke="#1e1e1e" stroke-width="1.3"/>
<line x1="319.2" y1="481.8" x2="388.5" y2="481.8" stroke="#1e1e1e" stroke-width="1.3"/>
<line x1="418.5" y1="480.9" x2="516.8" y2="480.9" stroke="#1e1e1e" stroke-width="1.3"/>
</svg>
</body></html>
